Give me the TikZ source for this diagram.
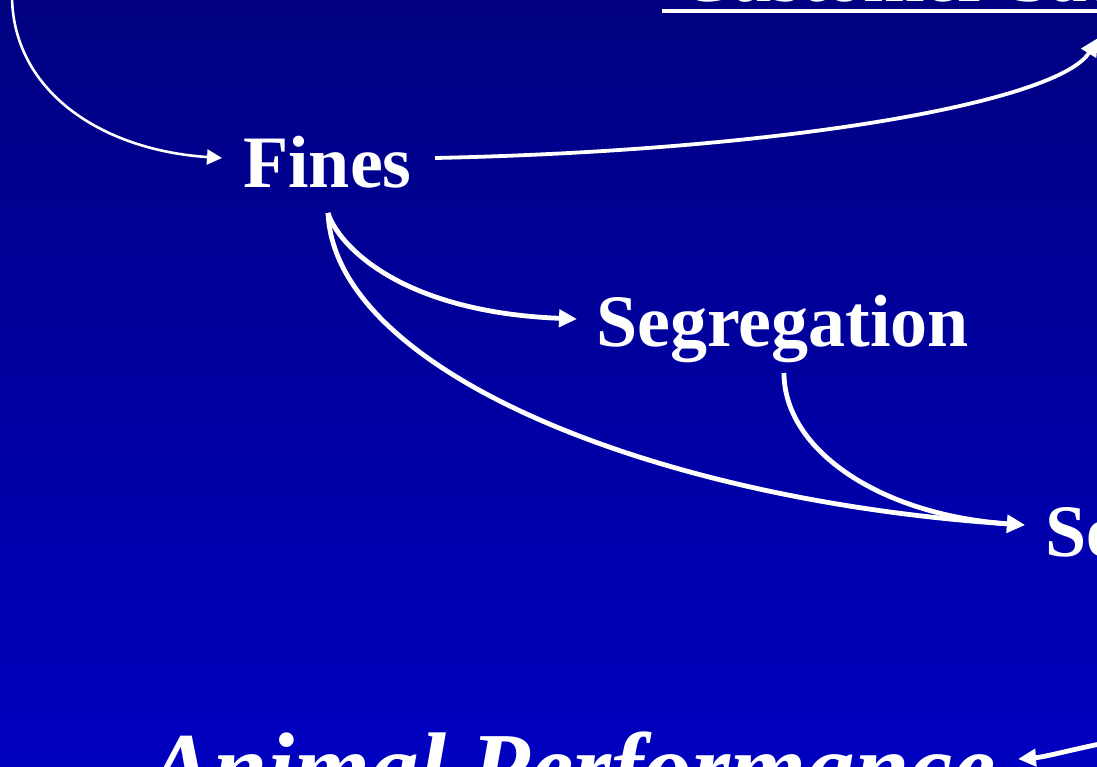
\documentclass[tikz,border=0pt]{standalone}
\usepackage{fontspec}
\setmainfont{Liberation Serif}
\usetikzlibrary{arrows.meta}
\definecolor{bgtop}{RGB}{0,0,128}
\definecolor{bgbot}{RGB}{0,0,192}
\begin{document}
\begin{tikzpicture}[x=1pt,y=-1pt,
  lbl/.style={text=white, inner sep=0pt, anchor=base west, font=\fontsize{74}{80}\selectfont\bfseries},
  conn/.style={draw=white, line width=4.8pt, -{Triangle[length=18pt,width=17pt]}},
  thinconn/.style={draw=white, line width=2.6pt, -{Triangle[length=15pt,width=15pt]}}]
\useasboundingbox (0,0) rectangle (1097,766);
\clip (0,0) rectangle (1097,766);
\shade[top color=bgtop, bottom color=bgbot] (0,0) rectangle (1097,766);

% labels
\node[lbl] (cust) at (678,1.5) {Customer Satisfaction};
\draw[white, line width=4pt] (662,11) -- (1100,11);
\node[lbl] (fines) at (243,187) {Fines};
\node[lbl] (seg) at (596,346) {Segregation};
\node[lbl] (sel) at (1045,556) {Selection};
\node[lbl, font=\fontsize{97.5}{104}\selectfont\bfseries\itshape] (anim) at (148,800) {Animal Performance};

% connector end points
\coordinate (tl) at (12,-5);
\coordinate (finesin) at (222,158);
\coordinate (finesout) at (435,158);
\coordinate (custin) at (1098,38);
\coordinate (finesbot) at (328,213);
\coordinate (segin) at (577,319);
\coordinate (segbot) at (784,373);
\coordinate (selin) at (1025,525);
\coordinate (animr) at (1100,744);
\coordinate (animin) at (1018,759);

% connectors
\draw[thinconn] (tl) .. controls (12,90) and (100,150) .. (finesin);
\draw[conn, line width=3.8pt] (finesout) .. controls (800,150) and (1060,100) .. (custin);
\draw[conn] (finesbot) .. controls (338,245) and (400,312) .. (segin);
\draw[conn] (finesbot) .. controls (335,370) and (650,500) .. (selin);
\draw[conn] (segbot) .. controls (784,450) and (880,515) .. (selin);
\draw[conn] (animr) .. controls (1070,750) and (1045,757) .. (animin);
\end{tikzpicture}
\end{document}
